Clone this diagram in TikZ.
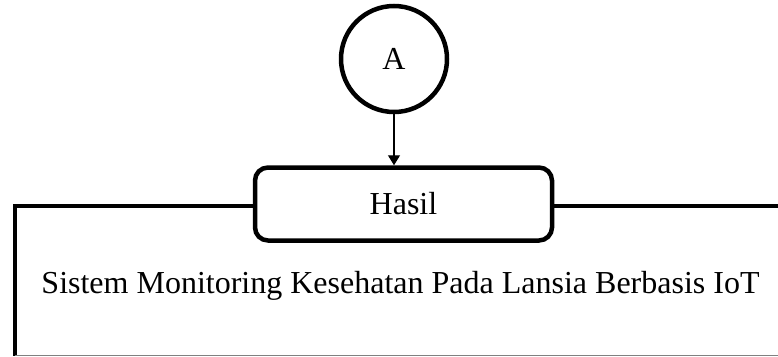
\documentclass[tikz,border=0pt]{standalone}
\usepackage{fontspec}
\setmainfont{Liberation Serif}
\usetikzlibrary{arrows.meta}
\begin{document}
\begin{tikzpicture}[x=1pt,y=-1pt,
  thickline/.style={line width=4.5pt},
  bigtext/.style={font=\fontsize{32}{38}\selectfont, inner sep=0pt},
  connector/.style={line width=1.3pt, -{Triangle[length=10pt,width=12pt]}}]
\useasboundingbox (0,0) rectangle (778,356);
\node[thickline, draw, circle, minimum size=106pt, inner sep=0pt, bigtext] (a) at (394,59) {A};
\node[thickline, draw, rounded corners=13pt, minimum width=297pt, minimum height=73pt, inner sep=0pt, bigtext] (hasil) at (403.5,204) {Hasil};
\coordinate (tl) at (15,206);
\coordinate (bl) at (15,356);
\coordinate (tr) at (778,206);
\coordinate (br) at (778,355.5);
\draw[connector] (a.south) -- (a.south |- hasil.north);
\draw[thickline] (hasil.west |- tl) -- (tl) -- (bl);
\draw[thickline] (hasil.east |- tr) -- (tr);
\draw[gray, line width=1pt] (bl |- br) -- (br);
\node[bigtext, anchor=base] (judul) at (400.5,293) {Sistem Monitoring Kesehatan Pada Lansia Berbasis IoT};
\end{tikzpicture}
\end{document}
